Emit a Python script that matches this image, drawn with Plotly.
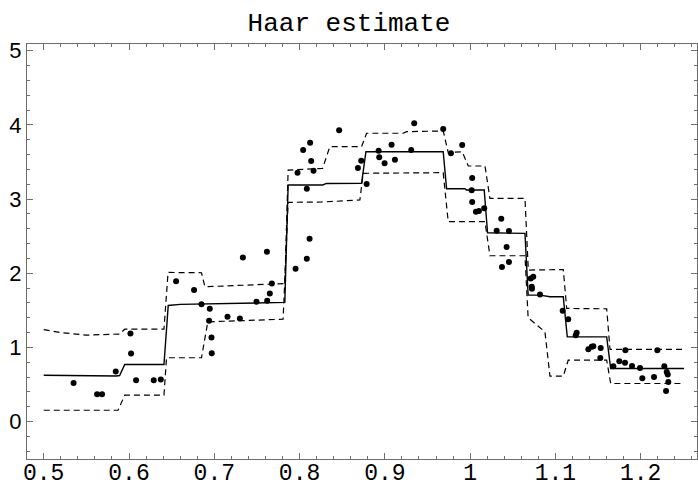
import plotly.graph_objects as go

# Observed sample points
obs_x = [0.535, 0.5626, 0.5684, 0.5845, 0.6017, 0.6024, 0.6083, 0.629, 0.6373, 0.6552,
         0.6763, 0.685, 0.6939, 0.6947, 0.6967, 0.697, 0.7155, 0.730, 0.7335, 0.7495,
         0.7617, 0.762, 0.7651, 0.7675, 0.7953, 0.7976, 0.8042, 0.8085, 0.8085, 0.8117,
         0.8124, 0.8136, 0.8164, 0.8464, 0.8684, 0.8723, 0.8786, 0.8927, 0.8934, 0.8997,
         0.9079, 0.9118, 0.9309, 0.9344, 0.9684, 0.9775, 0.9907, 1.0018, 1.0024, 1.0024,
         1.0068, 1.0103, 1.0165, 1.0311, 1.0365, 1.0373, 1.0428, 1.0455, 1.0455, 1.071,
         1.0722, 1.0725, 1.074, 1.0819, 1.1085, 1.115, 1.1238, 1.1249, 1.1386, 1.1425,
         1.1444, 1.1526, 1.1531, 1.1679, 1.1749, 1.1816, 1.182, 1.1898, 1.1992, 1.2019,
         1.2156, 1.2195, 1.2277, 1.2297, 1.2305, 1.2317, 1.2324]
obs_y = [0.52, 0.368, 0.368, 0.675, 1.188, 0.918, 0.557, 0.557, 0.567, 1.893,
         1.772, 1.583, 1.358, 1.520, 1.133, 0.922, 1.412, 1.39, 2.213, 1.614,
         2.289, 1.628, 1.727, 1.862, 2.059, 3.355, 3.66, 2.194, 3.139, 2.464,
         3.76, 3.513, 3.382, 3.927, 3.418, 3.517, 3.202, 3.652, 3.563, 3.482,
         3.733, 3.53, 3.661, 4.022, 3.945, 3.617, 3.729, 3.117, 3.283, 2.96,
         2.829, 2.838, 2.874, 2.572, 2.734, 2.082, 2.352, 2.568, 2.15, 1.929,
         1.817, 1.79, 1.951, 1.714, 1.493, 1.38, 1.165, 1.196, 0.976, 1.007,
         1.016, 0.858, 0.993, 0.746, 0.814, 0.791, 0.962, 0.75, 0.723, 0.584,
         0.602, 0.962, 0.746, 0.413, 0.669, 0.634, 0.534]

# Haar wavelet estimate
est_x = [0.5, 0.535, 0.56, 0.585, 0.589, 0.595, 0.641, 0.646, 0.66, 0.75, 0.7827, 0.7866,
         0.827, 0.8316, 0.8727, 0.8778, 0.9684, 0.9724, 0.9939, 0.9957, 1.0165, 1.0204,
         1.0643, 1.068, 1.0819, 1.0937, 1.1092, 1.1139, 1.1601, 1.1648, 1.2508]
est_y = [0.625, 0.62, 0.612, 0.615, 0.62, 0.77, 0.77, 1.565, 1.579, 1.595, 1.606, 3.189,
         3.189, 3.21, 3.212, 3.638, 3.638, 3.139, 3.139, 3.121, 3.121, 2.545,
         2.537, 1.704, 1.704, 1.682, 1.682, 1.142, 1.142, 0.715, 0.715]

# Upper confidence band
up_x = [0.5, 0.519, 0.55, 0.589, 0.595, 0.641, 0.6458, 0.685, 0.689, 0.773, 0.7827, 0.7866,
        0.827, 0.8355, 0.8727, 0.8786, 0.9215, 0.9255, 0.9684, 0.9743, 0.9907, 0.9978,
        1.0174, 1.0232, 1.0643, 1.0682, 1.1092, 1.1132, 1.1601, 1.164, 1.2508]
up_y = [1.24, 1.20, 1.165, 1.18, 1.245, 1.245, 2.01, 2.006, 1.817, 1.86, 1.86, 3.39,
        3.414, 3.706, 3.706, 3.887, 3.887, 3.908, 3.918, 3.627, 3.638, 3.445,
        3.445, 3.009, 3.009, 2.042, 2.05, 1.525, 1.52, 0.972, 0.972]

# Lower confidence band
lo_x = [0.5, 0.5872, 0.595, 0.641, 0.644, 0.685, 0.6924, 0.7807, 0.7866, 0.827, 0.8707,
        0.8746, 0.9684, 0.9743, 1.0174, 1.0232, 1.0643, 1.068, 1.0877, 1.0936, 1.1092,
        1.115, 1.1601, 1.1648, 1.2508]
lo_y = [0.152, 0.152, 0.355, 0.355, 0.86, 0.86, 1.344, 1.38, 2.955, 2.96, 2.987,
        3.347, 3.355, 2.694, 2.694, 2.235, 2.235, 1.4, 1.209, 0.611, 0.611,
        0.827, 0.827, 0.513, 0.513]

x_tickvals = [0.5, 0.6, 0.7, 0.8, 0.9, 1.0, 1.1, 1.2]
x_ticktext = ["0.5", "0.6", "0.7", "0.8", "0.9", "1", "1.1", "1.2"]
y_tickvals = [0, 1, 2, 3, 4, 5]
y_ticktext = ["0", "1", "2", "3", "4", "5"]

ink = "#000000"
frame = "#6e6e6e"

fig = go.Figure()
fig.add_trace(go.Scatter(x=up_x, y=up_y, mode="lines",
                         line=dict(color=ink, width=1.2, dash="6px,4px")))
fig.add_trace(go.Scatter(x=lo_x, y=lo_y, mode="lines",
                         line=dict(color=ink, width=1.2, dash="6px,4px")))
fig.add_trace(go.Scatter(x=est_x, y=est_y, mode="lines",
                         line=dict(color=ink, width=1.4)))
fig.add_trace(go.Scatter(x=obs_x, y=obs_y, mode="markers",
                         marker=dict(color=ink, size=6)))

xr = [0.4804, 1.266]
yr = [-0.505, 5.09]

axis_common = dict(showgrid=False, zeroline=False, showline=True, linecolor=frame,
                   linewidth=1.2, ticks="inside", tickcolor=frame, tickwidth=1,
                   ticklen=6, mirror="allticks")

fig.update_xaxes(range=xr, tickvals=x_tickvals, ticktext=x_ticktext,
                 tickfont=dict(family="Liberation Mono", size=23, color="#000"),
                 ticklabelstandoff=-8,
                 minor=dict(ticks="inside", dtick=0.02, tick0=0.5, ticklen=3,
                            tickcolor=frame, tickwidth=1),
                 **axis_common)
fig.update_yaxes(range=yr, tickvals=y_tickvals, ticktext=y_ticktext,
                 tickfont=dict(family="Liberation Sans", size=22, color="#000"),
                 minor=dict(ticks="inside", dtick=0.2, tick0=0, ticklen=3,
                            tickcolor=frame, tickwidth=1),
                 **axis_common)

fig.update_layout(
    width=698, height=488,
    margin=dict(l=27, r=1, t=44, b=29, autoexpand=False),
    paper_bgcolor="white", plot_bgcolor="white",
    showlegend=False,
    title=dict(text="Haar estimate", x=0.5, xanchor="center", y=0.955, yanchor="middle",
               font=dict(family="Liberation Mono", size=26, color="#000")),
)

fig.write_html("out.html")
